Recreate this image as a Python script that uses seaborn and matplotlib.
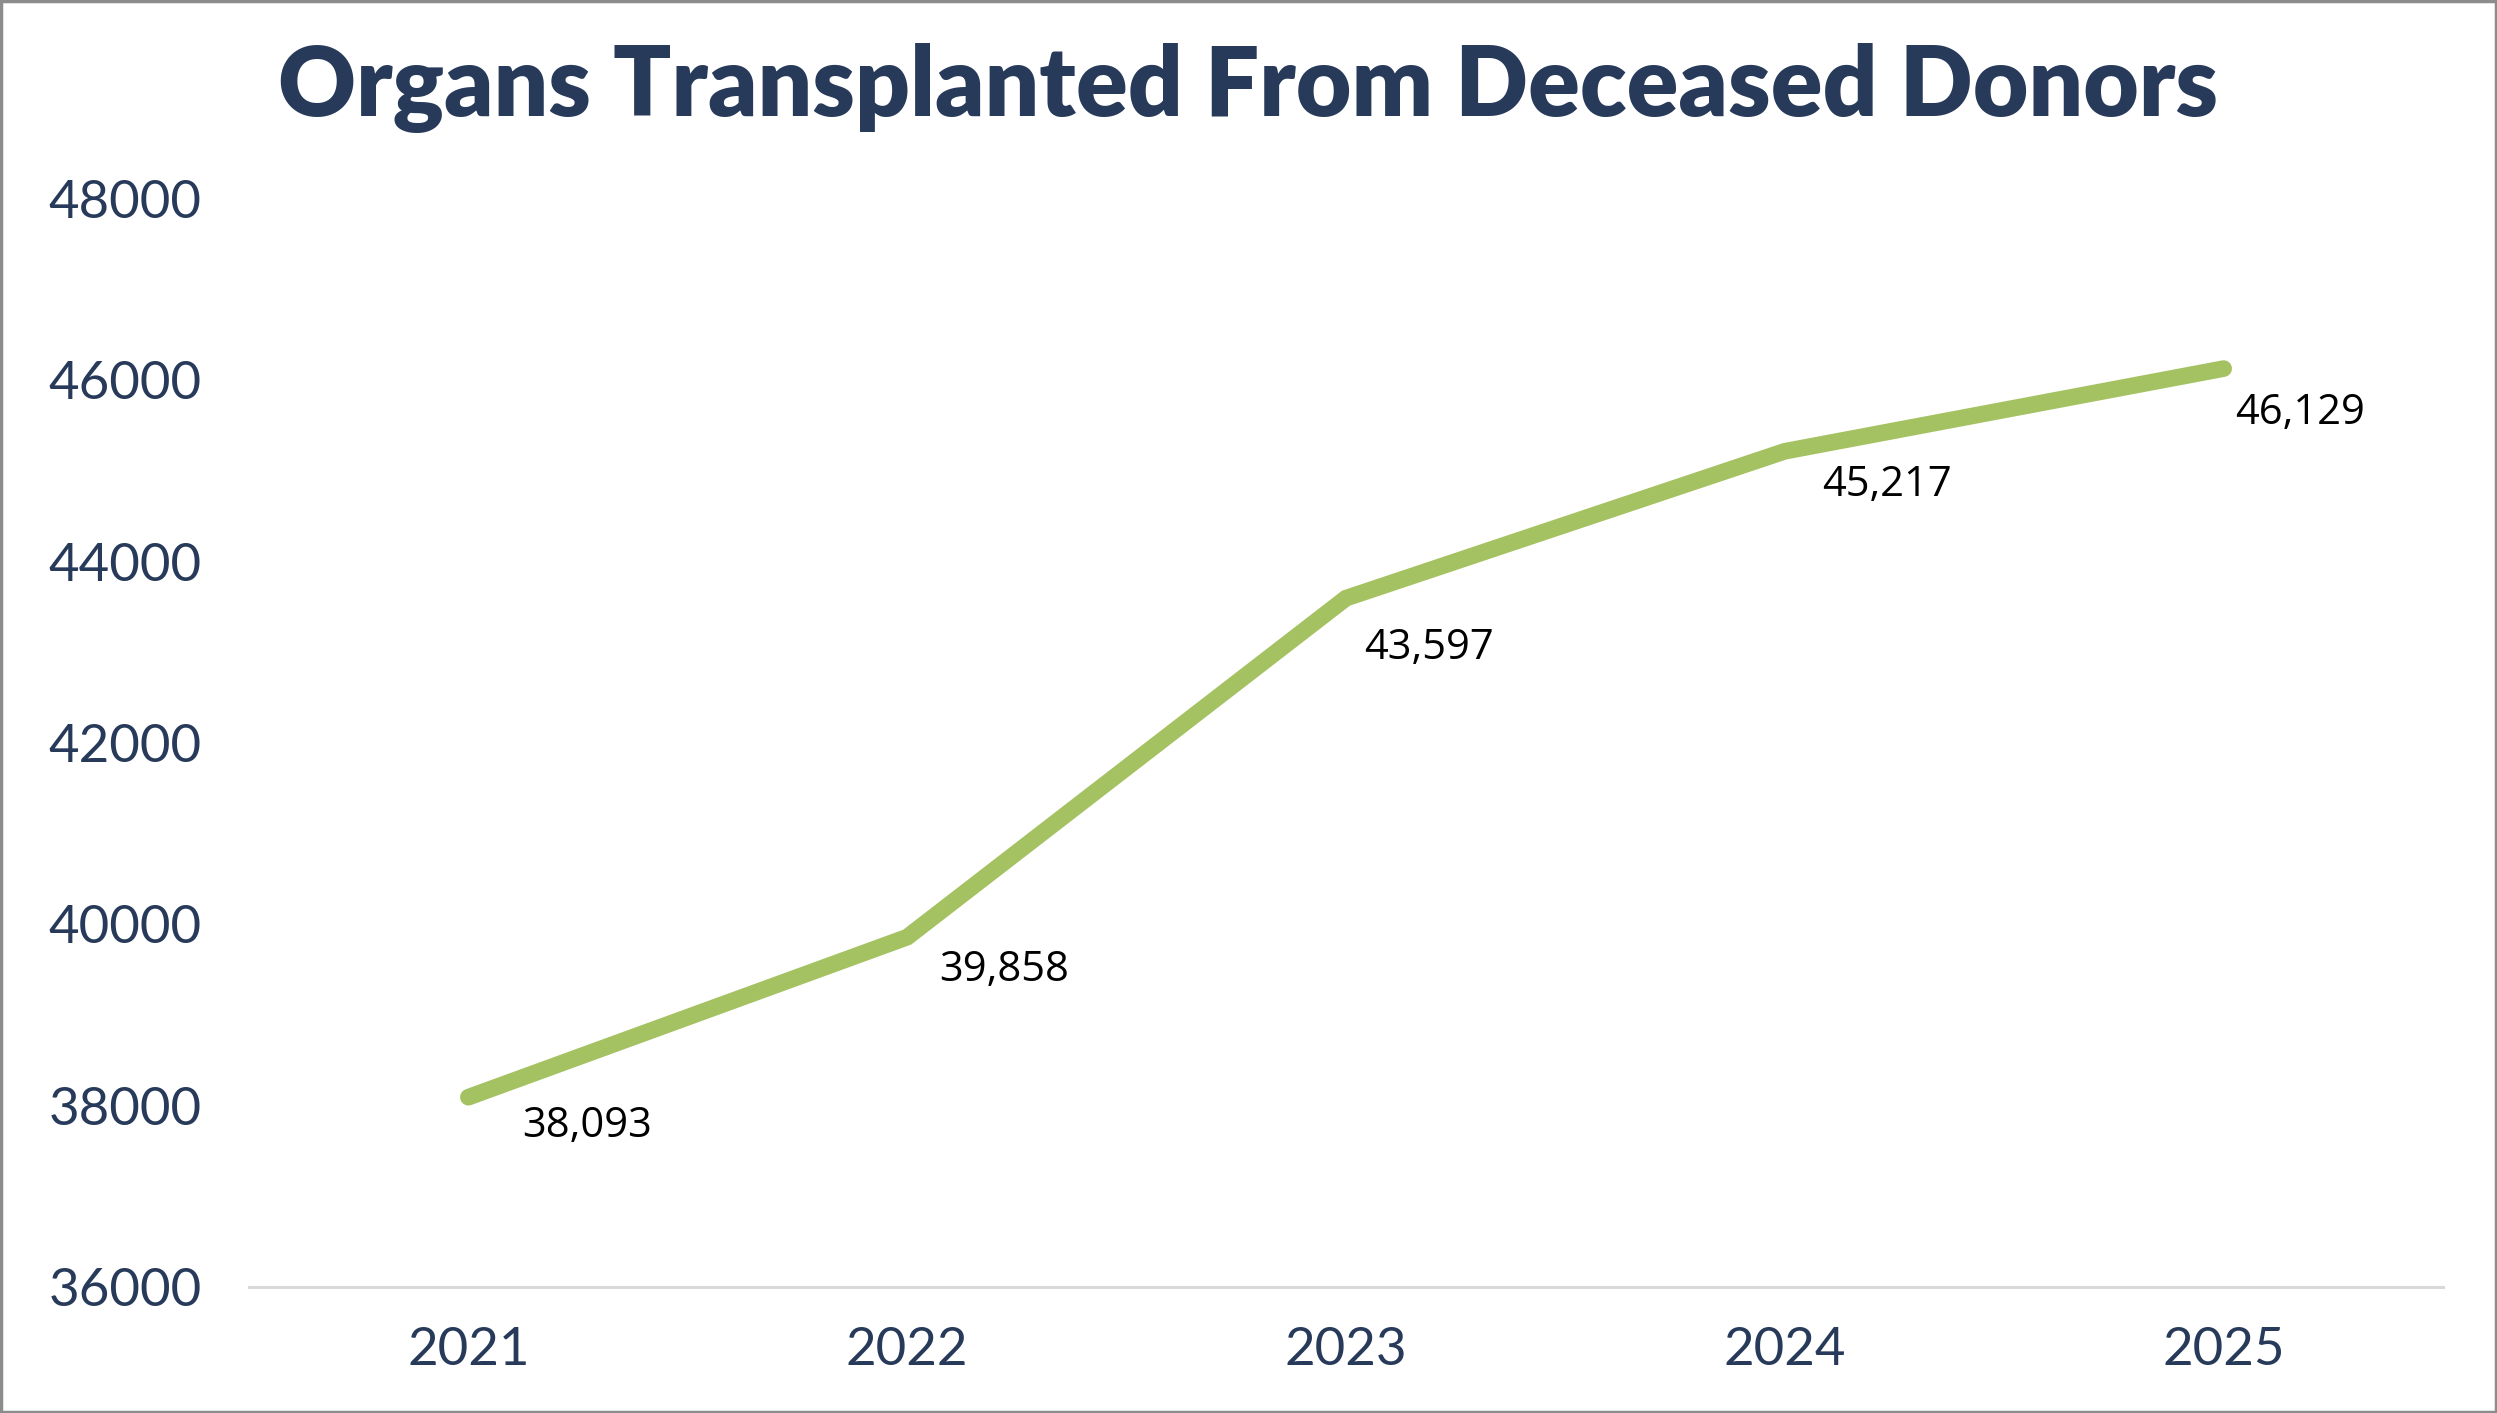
import matplotlib
matplotlib.use("Agg")
import matplotlib.pyplot as plt
import seaborn as sns
import pandas as pd

years = ["2021", "2022", "2023", "2024", "2025"]
organs = [38093, 39858, 43597, 45217, 46129]
y_ticks = [36000, 38000, 40000, 42000, 44000, 46000, 48000]
title_text = "Organs Transplanted From Deceased Donors"

# label offsets in pixels (dx, dy) relative to each point (label centre)
label_offsets = [(119, -29), (97, -33), (83, -50), (102, -34), (76, -44)]

df = pd.DataFrame({"year": years, "organs": organs})

sns.set_theme(style="white")
plt.rcParams["font.family"] = ["Lato", "DejaVu Sans"]

navy = "#283A5A"
green = "#A5C262"

fig = plt.figure(figsize=(24.97, 14.13), dpi=100)
ax = fig.add_axes([0.0997, 0.0892, 0.8787, 0.770])

sns.lineplot(data=df, x="year", y="organs", ax=ax, color=green, linewidth=12,
             sort=False, solid_capstyle="round", solid_joinstyle="miter")

ax.set_xlim(-0.5, len(years) - 0.5)
ax.set_ylim(y_ticks[0], y_ticks[-1])
ax.set_yticks(y_ticks)
ax.set_yticklabels([str(t) for t in y_ticks])
ax.set_xlabel("")
ax.set_ylabel("")

for s in ["top", "right", "left"]:
    ax.spines[s].set_visible(False)
ax.spines["bottom"].set_color("#D9D9D9")
ax.spines["bottom"].set_linewidth(2.2)

ax.tick_params(axis="y", length=0, pad=34, labelsize=38, labelcolor=navy)
ax.tick_params(axis="x", length=0, pad=29, labelsize=38, labelcolor=navy)
for lab in ax.get_yticklabels() + ax.get_xticklabels():
    lab.set_fontweight("normal")

for i, (v, off) in enumerate(zip(organs, label_offsets)):
    ax.annotate(f"{v:,}", xy=(i, v), xytext=off, textcoords="offset pixels",
                ha="center", va="center", fontsize=30, color="black",
                family=["Open Sans", "DejaVu Sans"])

fig.text(0.4998, 0.9377, title_text, ha="center", va="center",
         fontsize=69, fontweight="heavy", color=navy)

# outer border
border = plt.Rectangle((0.0005, 0.0007), 0.999, 0.9986, transform=fig.transFigure,
                       fill=False, edgecolor="#8C8C8C", linewidth=2.5)
fig.patches.append(border)

fig.savefig("out.png", dpi=100, facecolor="white")
